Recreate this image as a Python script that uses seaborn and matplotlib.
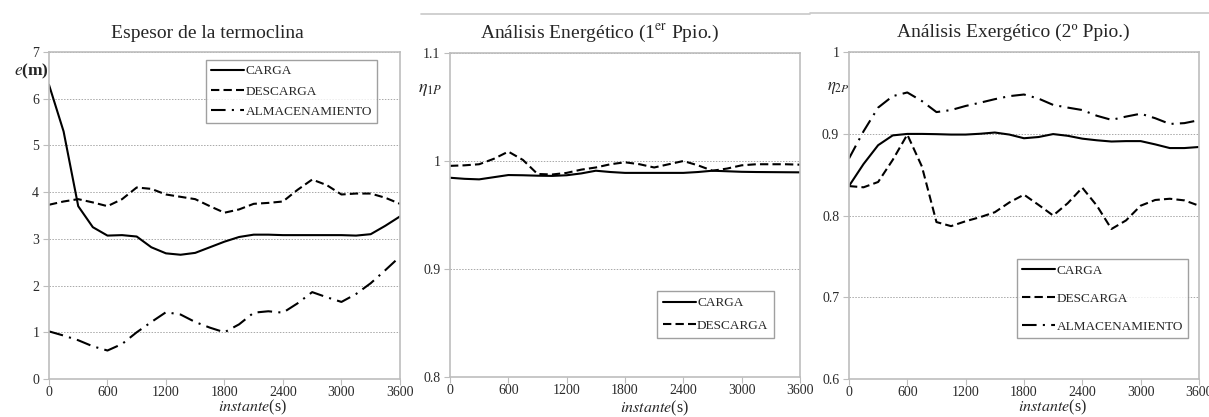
import matplotlib
matplotlib.use('Agg')
import matplotlib.pyplot as plt
import matplotlib.lines as mlines
import pandas as pd
import seaborn as sns

# time axis (s)
instante = [0, 150, 300, 450, 600, 750, 900, 1050, 1200, 1350, 1500, 1650, 1800,
            1950, 2100, 2250, 2400, 2550, 2700, 2850, 3000, 3150, 3300, 3450, 3600]

# Espesor de la termoclina, e (m)
espesor_carga = [6.3, 5.3, 3.7, 3.25, 3.07, 3.08, 3.05, 2.82, 2.69, 2.66, 2.7, 2.82, 2.94,
                 3.04, 3.09, 3.09, 3.08, 3.08, 3.08, 3.08, 3.08, 3.07, 3.1, 3.28, 3.48]
espesor_descarga = [3.73, 3.8, 3.85, 3.78, 3.7, 3.85, 4.1, 4.07, 3.95, 3.9, 3.85, 3.7, 3.56,
                    3.63, 3.75, 3.77, 3.8, 4.05, 4.27, 4.15, 3.95, 3.97, 3.97, 3.88, 3.75]
espesor_almac = [1.02, 0.93, 0.83, 0.7, 0.61, 0.75, 1.0, 1.22, 1.43, 1.38, 1.22, 1.1, 1.0,
                 1.17, 1.42, 1.45, 1.42, 1.62, 1.86, 1.75, 1.65, 1.82, 2.05, 2.33, 2.62]

# Analisis energetico, eta_1P
eta1_carga = [0.9845, 0.9835, 0.983, 0.985, 0.987, 0.9868, 0.9864, 0.9862, 0.9868, 0.9885,
              0.991, 0.9898, 0.989, 0.989, 0.989, 0.989, 0.989, 0.9898, 0.991, 0.9905,
              0.99, 0.9898, 0.9897, 0.9896, 0.9895]
eta1_descarga = [0.9955, 0.996, 0.997, 1.002, 1.0087, 1.001, 0.988, 0.9875, 0.989, 0.992,
                 0.994, 0.997, 0.9988, 0.997, 0.994, 0.997, 1.0, 0.996, 0.991, 0.993,
                 0.996, 0.997, 0.997, 0.997, 0.9966]

# Analisis exergetico, eta_2P
eta2_carga = [0.836, 0.863, 0.886, 0.898, 0.8998, 0.8998, 0.8995, 0.899, 0.899, 0.9,
              0.9015, 0.899, 0.8945, 0.896, 0.8996, 0.8975, 0.894, 0.892, 0.8905, 0.891,
              0.891, 0.887, 0.8825, 0.8825, 0.8838]
eta2_descarga = [0.836, 0.8345, 0.841, 0.868, 0.899, 0.86, 0.792, 0.787, 0.793, 0.798,
                 0.804, 0.816, 0.8255, 0.813, 0.8, 0.815, 0.834, 0.812, 0.7835, 0.794,
                 0.812, 0.819, 0.8205, 0.8185, 0.812]
eta2_almac = [0.8697, 0.903, 0.932, 0.946, 0.9505, 0.94, 0.9265, 0.929, 0.934, 0.938,
              0.9423, 0.946, 0.948, 0.943, 0.9353, 0.932, 0.929, 0.922, 0.917, 0.921,
              0.9245, 0.919, 0.912, 0.913, 0.9166]

sns.set_theme(style='white')
plt.rcParams['font.family'] = ['Liberation Serif', 'DejaVu Serif']
plt.rcParams['mathtext.fontset'] = 'stix'

DASHES = {'CARGA': '', 'DESCARGA': (4, 2), 'ALMACENAMIENTO': (7, 3, 1, 3)}
GRAY = '#bdbdbd'


def long_df(series):
    rows = []
    for name, vals in series.items():
        for t, v in zip(instante, vals):
            rows.append({'instante': t, 'valor': v, 'serie': name})
    return pd.DataFrame(rows)


def draw_panel(ax, series, ylim, yticks, ylabels):
    df = long_df(series)
    names = list(series.keys())
    sns.lineplot(data=df, x='instante', y='valor', hue='serie', style='serie',
                 hue_order=names, style_order=names,
                 palette=['black'] * len(names),
                 dashes={k: DASHES[k] for k in names},
                 linewidth=1.5, legend=False, ax=ax)
    ax.set_xlim(0, 3600)
    ax.set_ylim(*ylim)
    ax.set_xticks(range(0, 3601, 600))
    ax.set_yticks(yticks)
    ax.set_yticklabels(ylabels)
    ax.set_xlabel('')
    ax.set_ylabel('')
    ax.yaxis.grid(True, linestyle=(0, (1.5, 1.5)), color='#a8a8a8', linewidth=0.7)
    ax.xaxis.grid(False)
    for s in ax.spines.values():
        s.set_color(GRAY)
        s.set_linewidth(1.2)
    ax.tick_params(axis='both', direction='out', length=4, width=0.8, color=GRAY,
                   labelsize=10, labelcolor='#2a2a2a', pad=3, bottom=True, left=True)
    ax.tick_params(axis='x', pad=1)
    handles = [mlines.Line2D([], [], color='black', lw=1.5,
                             linestyle=(0, DASHES[k]) if DASHES[k] else '-')
               for k in names]
    return handles, names


fig = plt.figure(figsize=(12.09, 4.17), dpi=100)
ax1 = fig.add_axes([0.0405, 0.0911, 0.2903, 0.7842])
ax2 = fig.add_axes([0.3722, 0.0959, 0.2895, 0.7770])
ax3 = fig.add_axes([0.7022, 0.0911, 0.2895, 0.7842])

leg_kw = dict(loc='upper left', fontsize=9.5, frameon=True, fancybox=False,
              edgecolor='#888888', handlelength=2.5, handletextpad=0.1,
              borderaxespad=0)

# panel 1
h, n = draw_panel(ax1, {'CARGA': espesor_carga, 'DESCARGA': espesor_descarga,
                        'ALMACENAMIENTO': espesor_almac},
                  (0, 7), range(0, 8), [str(i) for i in range(0, 8)])
ax1.legend(h, n, bbox_to_anchor=(0.447, 0.976), labelspacing=0.6, borderpad=0.4,
           **leg_kw)
ax1.text(0.45, 1.058, 'Espesor de la termoclina', transform=ax1.transAxes,
         ha='center', va='center', fontsize=14)
ax1.text(-0.05, 0.942, '$e$(m)', transform=ax1.transAxes, ha='center', va='center',
         fontsize=12.5, fontweight='bold')
ax1.text(0.581, -0.088, '$instante$(s)', transform=ax1.transAxes, ha='center',
         va='center', fontsize=11.5)

# panel 2
h, n = draw_panel(ax2, {'CARGA': eta1_carga, 'DESCARGA': eta1_descarga},
                  (0.8, 1.1), [0.8, 0.9, 1.0, 1.1], ['0.8', '0.9', '1', '1.1'])
ax2.legend(h, n, bbox_to_anchor=(0.591, 0.265), labelspacing=0.8, borderpad=0.45,
           **leg_kw)
ax2.text(0.429, 1.062, 'Análisis Energético (1$^{\\rm er}$ Ppio.)', transform=ax2.transAxes,
         ha='center', va='center', fontsize=14)
ax2.text(-0.057, 0.886, '$\\eta_{1P}$', transform=ax2.transAxes, ha='center',
         va='center', fontsize=13)
ax2.text(0.585, -0.098, '$instante$(s)', transform=ax2.transAxes, ha='center',
         va='center', fontsize=11.5)

# panel 3
h, n = draw_panel(ax3, {'CARGA': eta2_carga, 'DESCARGA': eta2_descarga,
                        'ALMACENAMIENTO': eta2_almac},
                  (0.6, 1.0), [0.6, 0.7, 0.8, 0.9, 1.0], ['0.6', '0.7', '0.8', '0.9', '1'])
ax3.legend(h, n, bbox_to_anchor=(0.48, 0.367), labelspacing=1.2, borderpad=0.4,
           **leg_kw)
ax3.text(0.471, 1.061, 'Análisis Exergético (2º Ppio.)', transform=ax3.transAxes,
         ha='center', va='center', fontsize=14)
ax3.text(-0.029, 0.89, '$\\eta_{2P}$', transform=ax3.transAxes, ha='center',
         va='center', fontsize=12)
ax3.text(0.58, -0.088, '$instante$(s)', transform=ax3.transAxes, ha='center',
         va='center', fontsize=11.5)

# thin gray rules at the top of the second and third images
fig.add_artist(mlines.Line2D([421 / 1209, 810 / 1209], [1 - 14 / 417, 1 - 14 / 417],
                             color='#c8c8c8', lw=1.2))
fig.add_artist(mlines.Line2D([810 / 1209, 1.0], [1 - 13 / 417, 1 - 13 / 417],
                             color='#c8c8c8', lw=1.2))

fig.savefig('out.png', dpi=100)
